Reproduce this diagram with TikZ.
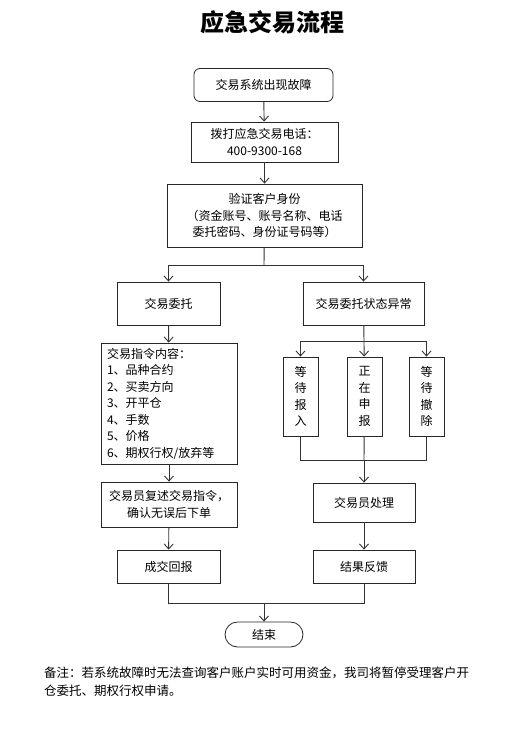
\documentclass[tikz,border=0pt]{standalone}
\usepackage{fontspec}
\setmainfont{Noto Sans CJK SC}
\usetikzlibrary{arrows.meta}

\begin{document}
\begin{tikzpicture}[x=1pt,y=-1pt,
  proc/.style={draw=black!85,line width=0.8pt,align=center,inner sep=1pt,
    font=\fontsize{12}{16.5}\selectfont},
  link/.style={draw=black!80,line width=0.9pt},
  arr/.style={link,-{Straight Barb[length=5pt,width=9pt]}}]
  \useasboundingbox (0,0) rectangle (528,739);
  \node (title) at (272,22) {\fontsize{24}{24}\selectfont\bfseries 应急交易流程};
  % main column
  \node[proc,rounded corners=6pt,minimum width=139,minimum height=33] (fault) at (263.5,85) {交易系统出现故障};
  \node[proc,minimum width=147,minimum height=40] (call) at (264.5,142) {拨打应急交易电话：\\400-9300-168};
  \node[proc,minimum width=195,minimum height=63] (verify) at (264.5,215.5)
    {验证客户身份\\（资金账号、账号名称、电话\\委托密码、身份证号码等）};
  % left branch
  \node[proc,minimum width=103,minimum height=43] (order) at (168.5,303.5) {交易委托};
  \node[proc,minimum width=136,minimum height=121,text width=124,align=left,inner xsep=6pt] (content) at (169,403.5)
    {交易指令内容：\\1、品种合约\\2、买卖方向\\3、开平仓\\4、手数\\5、价格\\6、期权行权/放弃等};
  \node[proc,minimum width=136,minimum height=45] (repeat) at (169,504.5) {交易员复述交易指令，\\确认无误后下单};
  \node[proc,minimum width=103,minimum height=33] (deal) at (168.5,566.5) {成交回报};
  % right branch
  \node[proc,minimum width=121,minimum height=43] (abnormal) at (363.5,303.5) {交易委托状态异常};
  \node[proc,minimum width=35,minimum height=79] (waitin) at (300.5,396.5) {等\\待\\报\\入};
  \node[proc,minimum width=35,minimum height=79] (report) at (364.5,396.5) {正\\在\\申\\报};
  \node[proc,minimum width=35,minimum height=79] (waitout) at (426.5,396.5) {等\\待\\撤\\除};
  \node[proc,minimum width=102,minimum height=39] (handle) at (364,502.5) {交易员处理};
  \node[proc,minimum width=102,minimum height=33] (feedback) at (364,566.5) {结果反馈};
  \node[proc,rounded corners=12.5pt,minimum width=78,minimum height=25] (finish) at (264,634.5) {结束};
  % note
  \node[anchor=north west,inner sep=0pt,align=left,font=\fontsize{12.5}{18}\selectfont] (note) at (44,667)
    {备注：若系统故障时无法查询客户账户实时可用资金，我司将暂停受理客户开\\仓委托、期权行权申请。};
  % junctions
  \coordinate (split) at (264,265);
  \coordinate (rsplit) at (364,341);
  \coordinate (rjoin) at (364,460);
  \coordinate (join) at (264,603);
  % connectors
  \draw[arr] (fault) -- (call);
  \draw[arr] (call) -- (verify);
  \draw[link] (verify) -- (split);
  \draw[arr] (split) -| (order);
  \draw[arr] (split) -| (abnormal);
  \draw[arr] (order) -- (content);
  \draw[arr] (content) -- (repeat);
  \draw[arr] (repeat) -- (deal);
  \draw[link] (abnormal) -- (rsplit);
  \draw[arr] (rsplit) -| (waitin);
  \draw[arr] (rsplit) -- (report);
  \draw[arr] (rsplit) -| (waitout);
  \draw[link] (waitin) |- (rjoin);
  \draw[link] (report) -- (rjoin);
  \draw[link] (waitout) |- (rjoin);
  \draw[arr] (rjoin) -- (handle);
  \draw[arr] (handle) -- (feedback);
  \draw[link] (deal) |- (join);
  \draw[link] (feedback) |- (join);
  \draw[arr] (join) -- (finish);
\end{tikzpicture}
\end{document}
